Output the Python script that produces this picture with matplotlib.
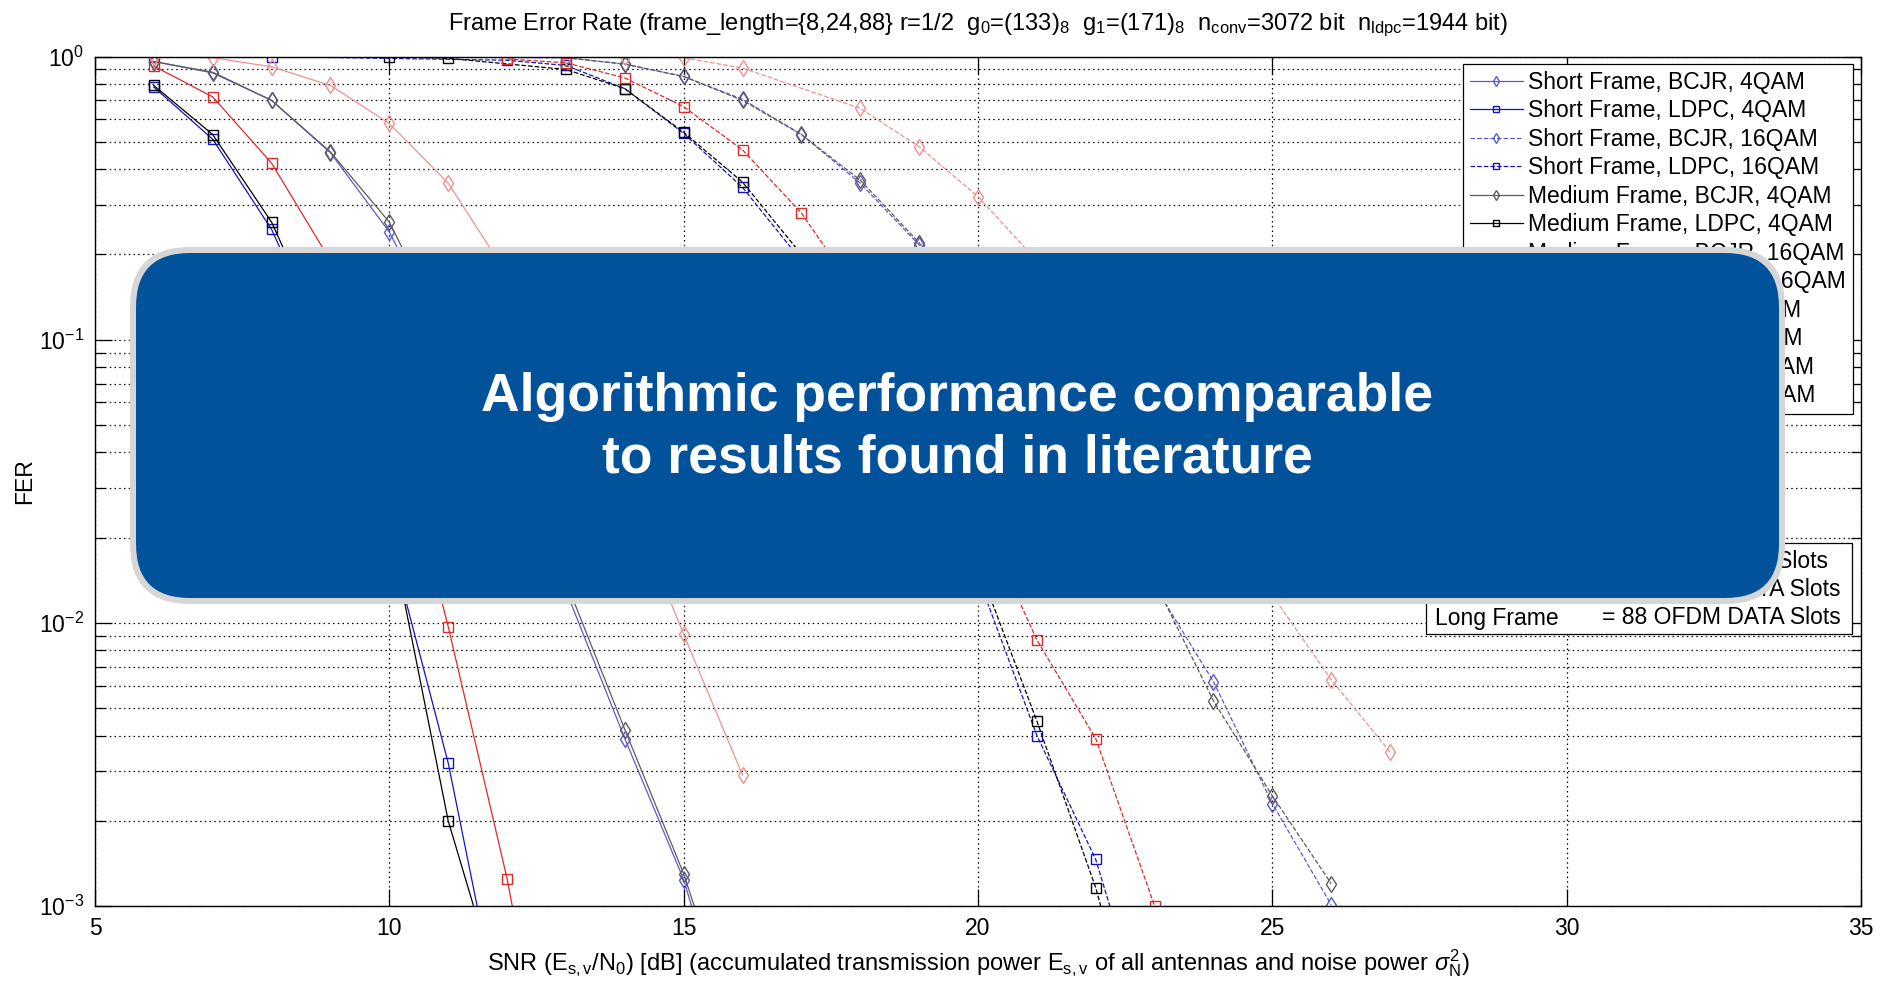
import matplotlib
matplotlib.use("Agg")
import matplotlib.pyplot as plt
from matplotlib.patches import FancyBboxPatch, Rectangle
from matplotlib.ticker import LogLocator, NullFormatter

plt.rcParams['font.family'] = ['Liberation Sans', 'DejaVu Sans']
plt.rcParams['mathtext.fontset'] = 'custom'
plt.rcParams['mathtext.rm'] = 'Liberation Sans'
plt.rcParams['mathtext.it'] = 'Liberation Sans:italic'
plt.rcParams['mathtext.bf'] = 'Liberation Sans:bold'

# --- data (SNR in dB, FER) ---
# 4QAM
snr_s_bcjr_4 = [6, 7, 8, 9, 10, 11, 12, 13, 14, 15, 16]
fer_s_bcjr_4 = [0.96, 0.875, 0.70, 0.457, 0.24, 0.093, 0.034, 0.013, 0.0039, 0.00124, 0.00025]
snr_s_ldpc_4 = [6, 7, 8, 9, 10, 11, 12]
fer_s_ldpc_4 = [0.78, 0.51, 0.245, 0.085, 0.02, 0.0032, 0.0003]
snr_m_bcjr_4 = [6, 7, 8, 9, 10, 11, 12, 13, 14, 15, 16]
fer_m_bcjr_4 = [0.96, 0.88, 0.70, 0.46, 0.26, 0.1, 0.037, 0.014, 0.0042, 0.0013, 0.0003]
snr_m_ldpc_4 = [6, 7, 8, 9, 10, 11, 12]
fer_m_ldpc_4 = [0.79, 0.53, 0.26, 0.09, 0.022, 0.002, 0.0004]
snr_l_bcjr_4 = [6, 7, 8, 9, 10, 11, 12, 13, 14, 15, 16]
fer_l_bcjr_4 = [1.0, 0.99, 0.92, 0.79, 0.58, 0.357, 0.17, 0.075, 0.03, 0.0091, 0.0029]
snr_l_ldpc_4 = [6, 7, 8, 9, 10, 11, 12, 13]
fer_l_ldpc_4 = [0.925, 0.72, 0.42, 0.19, 0.062, 0.0097, 0.00125, 0.0001]

# 16QAM
snr_s_bcjr_16 = [6, 13, 14, 15, 16, 17, 18, 19, 20, 21, 22, 23, 24, 25, 26]
fer_s_bcjr_16 = [1.0, 0.99, 0.94, 0.85, 0.706, 0.531, 0.357, 0.216, 0.115, 0.058, 0.028, 0.0135, 0.0062, 0.0023, 0.00101]
snr_s_ldpc_16 = [6, 8, 12, 13, 14, 15, 16, 17, 18, 19, 20, 21, 22, 23]
fer_s_ldpc_16 = [1.0, 1.0, 0.97, 0.93, 0.77, 0.535, 0.345, 0.19, 0.095, 0.04, 0.0145, 0.004, 0.00146, 0.0003]
snr_m_bcjr_16 = [13, 14, 15, 16, 17, 18, 19, 20, 21, 22, 23, 24, 25, 26]
fer_m_bcjr_16 = [0.99, 0.94, 0.85, 0.70, 0.53, 0.366, 0.22, 0.12, 0.06, 0.03, 0.014, 0.0053, 0.00245, 0.0012]
snr_m_ldpc_16 = [10, 11, 13, 14, 15, 16, 17, 18, 19, 20, 21, 22, 23]
fer_m_ldpc_16 = [1.0, 0.985, 0.90, 0.77, 0.54, 0.36, 0.2, 0.1, 0.042, 0.016, 0.0045, 0.00116, 0.0002]
snr_l_bcjr_16 = [6, 13, 14, 15, 16, 18, 19, 20, 21, 22, 23, 24, 25, 26, 27]
fer_l_bcjr_16 = [1.0, 1.0, 1.0, 0.99, 0.91, 0.656, 0.48, 0.32, 0.19, 0.11, 0.058, 0.028, 0.0125, 0.0063, 0.0035]
snr_l_ldpc_16 = [12, 13, 14, 15, 16, 17, 18, 19, 20, 21, 22, 23]
fer_l_ldpc_16 = [0.98, 0.95, 0.84, 0.665, 0.468, 0.28, 0.14, 0.065, 0.025, 0.0087, 0.0039, 0.001]

labels = ["Short Frame, BCJR, 4QAM", "Short Frame, LDPC, 4QAM",
          "Short Frame, BCJR, 16QAM", "Short Frame, LDPC, 16QAM",
          "Medium Frame, BCJR, 4QAM", "Medium Frame, LDPC, 4QAM",
          "Medium Frame, BCJR, 16QAM", "Medium Frame, LDPC, 16QAM",
          "Long Frame, BCJR, 4QAM", "Long Frame, LDPC, 4QAM",
          "Long Frame, BCJR, 16QAM", "Long Frame, LDPC, 16QAM"]

slot_names = ["Short Frame", "Medium Frame", "Long Frame"]
slot_counts = [8, 24, 88]

series = [
    (snr_s_bcjr_4, fer_s_bcjr_4), (snr_s_ldpc_4, fer_s_ldpc_4),
    (snr_s_bcjr_16, fer_s_bcjr_16), (snr_s_ldpc_16, fer_s_ldpc_16),
    (snr_m_bcjr_4, fer_m_bcjr_4), (snr_m_ldpc_4, fer_m_ldpc_4),
    (snr_m_bcjr_16, fer_m_bcjr_16), (snr_m_ldpc_16, fer_m_ldpc_16),
    (snr_l_bcjr_4, fer_l_bcjr_4), (snr_l_ldpc_4, fer_l_ldpc_4),
    (snr_l_bcjr_16, fer_l_bcjr_16), (snr_l_ldpc_16, fer_l_ldpc_16),
]

# colours per frame length: (BCJR, LDPC)
frame_colors = [("#5a5ad2", "#1414c0"), ("#5c5c5c", "#000000"), ("#f09090", "#dd2a2a")]

W, H = 1887, 983
fig = plt.figure(figsize=(W / 100, H / 100), dpi=100)
ax = fig.add_axes([95 / W, 1 - 906 / H, (1861 - 95) / W, (906 - 56.5) / H])

for i, (x, y) in enumerate(series):
    frame = i // 4
    is_ldpc = i % 2 == 1
    is_16 = (i // 2) % 2 == 1
    c = frame_colors[frame][1 if is_ldpc else 0]
    ax.semilogy(x, y, linestyle='--' if is_16 else '-', color=c, lw=0.9,
                marker='s' if is_ldpc else 'd', markersize=6.5 if is_ldpc else 8,
                markerfacecolor='none', markeredgecolor=c, markeredgewidth=1.0,
                label=labels[i])

ax.set_xlim(5, 35)
ax.set_ylim(1e-3, 1)
ax.set_xticks([5, 10, 15, 20, 25, 30, 35])
ax.yaxis.set_major_locator(LogLocator(base=10, numticks=10))
ax.yaxis.set_minor_locator(LogLocator(base=10, subs=range(2, 10), numticks=10))
ax.yaxis.set_minor_formatter(NullFormatter())
ax.grid(True, which='major', axis='both', linestyle=(0, (1.2, 2.6)), color='k', lw=0.9)
ax.grid(True, which='minor', axis='y', linestyle=(0, (1.2, 2.6)), color='k', lw=0.9)
ax.tick_params(which='both', direction='in', top=True, right=True, labelsize=16.5, pad=8)
ax.tick_params(which='major', length=12.5, width=0.9)
ax.tick_params(which='minor', length=7, width=0.9)
for s in ax.spines.values():
    s.set_linewidth(1.0)

ax.set_title("Frame Error Rate (frame_length={8,24,88} r=1/2  g$_0$=(133)$_8$  g$_1$=(171)$_8$  "
             "n$_{\\mathrm{conv}}$=3072 bit  n$_{\\mathrm{ldpc}}$=1944 bit)", fontsize=17, pad=19)
ax.set_xlabel("SNR (E$_{\\mathrm{s,v}}$/N$_0$) [dB] (accumulated transmission power E$_{\\mathrm{s,v}}$ "
              "of all antennas and noise power $\\sigma_{\\mathrm{N}}^{2}$)", fontsize=17, labelpad=5)
ax.set_ylabel("FER", fontsize=16.5, labelpad=2)

leg = ax.legend(loc='upper right', bbox_to_anchor=(1853 / W, 1 - 64 / H),
                bbox_transform=fig.transFigure, borderaxespad=0, fontsize=16.5,
                fancybox=False, framealpha=1, edgecolor='k', handlelength=2.3,
                handletextpad=0.25, labelspacing=0.24, borderpad=0.3, markerscale=0.7)
leg.get_frame().set_linewidth(0.9)

# frame length note box
fig.add_artist(Rectangle((1426 / W, 1 - 634 / H), (1852 - 1426) / W, (634 - 543) / H,
                         transform=fig.transFigure, fc='white', ec='k', lw=0.9, zorder=5))
for k, (name, n) in enumerate(zip(slot_names, slot_counts)):
    yy = 1 - (562 + 28 * k) / H
    fig.text(1435 / W, yy, name, fontsize=16.5, va='center', ha='left', zorder=6)
    fig.text(1602 / W, yy, f"= {n} OFDM DATA Slots", fontsize=16.5, va='center', ha='left', zorder=6)

# overlay call-out box
def rbox(x0, y0, x1, y1, r, color, z):
    p = FancyBboxPatch((x0 / 100, (H - y1) / 100), (x1 - x0) / 100, (y1 - y0) / 100,
                       boxstyle=f"round,pad=0,rounding_size={r / 100}",
                       transform=fig.dpi_scale_trans, fc=color, ec='none', zorder=z)
    fig.add_artist(p)

rbox(130, 247, 1785, 604, 60, "#d6d6d6", 10)
rbox(136, 253, 1779, 598, 54, "#02529b", 11)
fig.text(957 / W, 1 - 428 / H, "Algorithmic performance comparable\nto results found in literature",
         color='white', fontsize=38.5, fontweight='bold', ha='center', va='center',
         linespacing=1.3, zorder=12)

fig.savefig("out.png", dpi=100)
